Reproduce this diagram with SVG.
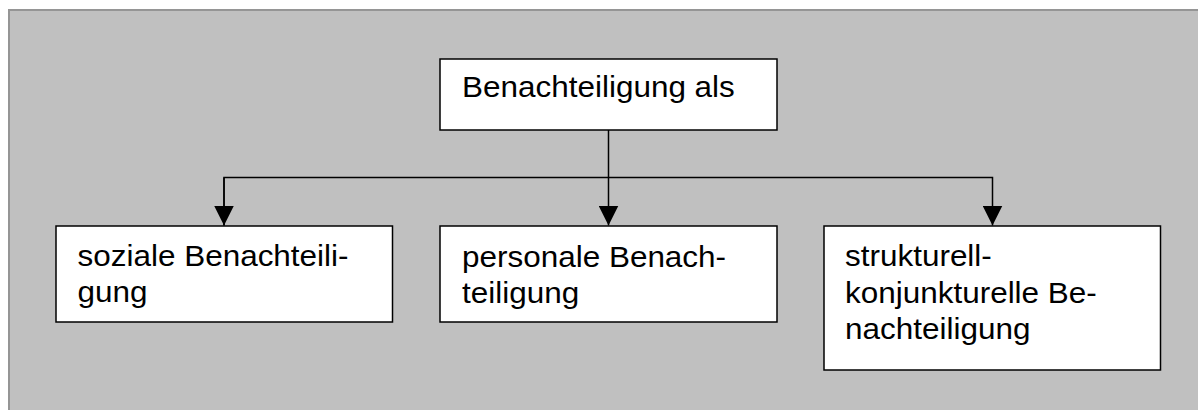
<svg xmlns="http://www.w3.org/2000/svg" width="1198" height="410" viewBox="0 0 1198 410">
  <style>
    .box { fill: #ffffff; stroke: #000000; stroke-width: 1.5; }
    .label { font-family: "Liberation Sans", Arial, sans-serif; font-size: 29px; fill: #000000; }
    .conn { fill: none; stroke: #000000; stroke-width: 1.5; }
  </style>
  <defs>
    <marker id="arrow" markerUnits="userSpaceOnUse" markerWidth="20" markerHeight="20" viewBox="0 0 20 20" refX="20" refY="10" orient="auto">
      <path d="M0,0 L20,10 L0,20 Z" fill="#000000"/>
    </marker>
  </defs>

  <!-- page background and frame -->
  <rect x="0" y="0" width="1198" height="410" fill="#ffffff"/>
  <rect x="9" y="10" width="1200" height="410" fill="#c0c0c0" stroke="#959595" stroke-width="2"/>

  <!-- connectors -->
  <g id="connectors">
    <line class="conn" x1="608.5" y1="130" x2="608.5" y2="225.5" marker-end="url(#arrow)"/>
    <polyline class="conn" points="224,225.5 224,177.5 992.5,177.5 992.5,225.5" marker-end="url(#arrow)"/>
    <line class="conn" x1="224" y1="177.5" x2="224" y2="225.5" marker-end="url(#arrow)"/>
  </g>

  <g id="node-root">
    <rect class="box" x="440" y="59" width="337" height="71"/>
    <text class="label" transform="translate(462,96.5) scale(1.085,1)">Benachteiligung als</text>
  </g>

  <g id="node-sozial">
    <rect class="box" x="56" y="226" width="336.5" height="96"/>
    <text class="label" transform="translate(77.5,265.5) scale(1.085,1)">
      <tspan x="0" y="0">soziale Benachteili-</tspan>
      <tspan x="0" y="36.7">gung</tspan>
    </text>
  </g>

  <g id="node-personal">
    <rect class="box" x="440" y="226" width="337" height="96"/>
    <text class="label" transform="translate(462,266.5) scale(1.085,1)">
      <tspan x="0" y="0">personale Benach-</tspan>
      <tspan x="0" y="36.7">teiligung</tspan>
    </text>
  </g>

  <g id="node-strukturell">
    <rect class="box" x="824" y="226" width="336.5" height="144"/>
    <text class="label" transform="translate(845,266) scale(1.085,1)">
      <tspan x="0" y="0">strukturell-</tspan>
      <tspan x="0" y="36.7">konjunkturelle Be-</tspan>
      <tspan x="0" y="73.4">nachteiligung</tspan>
    </text>
  </g>
</svg>
